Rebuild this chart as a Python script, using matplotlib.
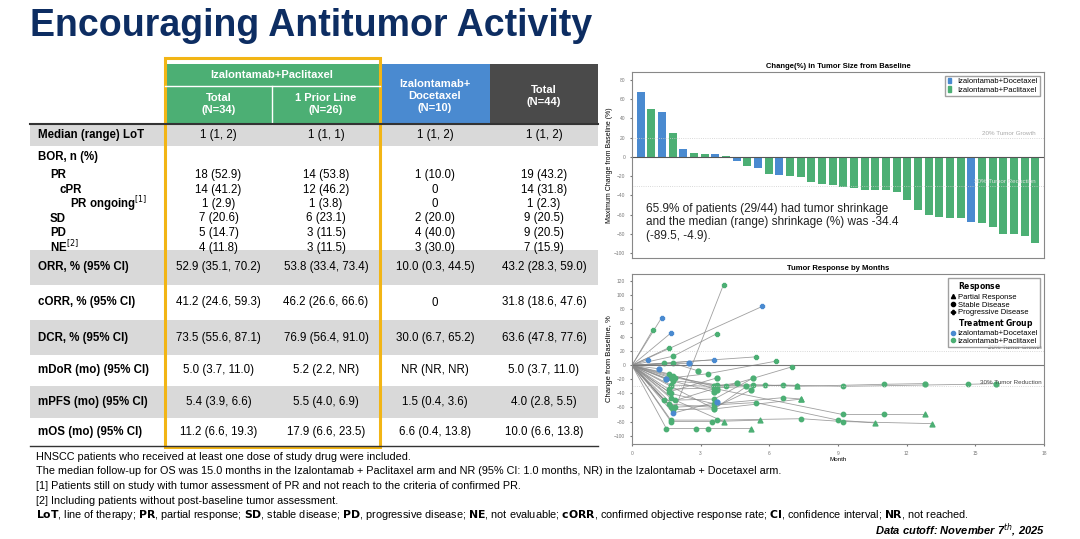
import matplotlib
matplotlib.use("Agg")
import matplotlib.pyplot as plt
import matplotlib.patches as mpatches
from matplotlib.lines import Line2D

W, H = 1080, 539
plt.rcParams["font.family"] = ["Liberation Sans", "DejaVu Sans"]

# ── table data ───────────────────────────────────────────────────────────────
ROW_LABELS = ["Median (range) LoT", "BOR, n (%)", "ORR, % (95% CI)", "cORR, % (95% CI)",
              "DCR, % (95% CI)", "mDoR (mo) (95% CI)", "mPFS (mo) (95% CI)", "mOS (mo) (95% CI)"]
LOT = ["1 (1, 2)", "1 (1, 1)", "1 (1, 2)", "1 (1, 2)"]
BOR_LABELS = ["PR", "cPR", "PR ongoing$^{[1]}$", "SD", "PD", "NE$^{[2]}$"]
BOR_INDENT = [0, 1, 2, 0, 0, 0]
BOR = [
    ["18 (52.9)", "14 (53.8)", "1 (10.0)", "19 (43.2)"],
    ["14 (41.2)", "12 (46.2)", "0", "14 (31.8)"],
    ["1 (2.9)", "1 (3.8)", "0", "1 (2.3)"],
    ["7 (20.6)", "6 (23.1)", "2 (20.0)", "9 (20.5)"],
    ["5 (14.7)", "3 (11.5)", "4 (40.0)", "9 (20.5)"],
    ["4 (11.8)", "3 (11.5)", "3 (30.0)", "7 (15.9)"],
]
STATS = [
    ["52.9 (35.1, 70.2)", "53.8 (33.4, 73.4)", "10.0 (0.3, 44.5)", "43.2 (28.3, 59.0)"],
    ["41.2 (24.6, 59.3)", "46.2 (26.6, 66.6)", "0", "31.8 (18.6, 47.6)"],
    ["73.5 (55.6, 87.1)", "76.9 (56.4, 91.0)", "30.0 (6.7, 65.2)", "63.6 (47.8, 77.6)"],
    ["5.0 (3.7, 11.0)", "5.2 (2.2, NR)", "NR (NR, NR)", "5.0 (3.7, 11.0)"],
    ["5.4 (3.9, 6.6)", "5.5 (4.0, 6.9)", "1.5 (0.4, 3.6)", "4.0 (2.8, 5.5)"],
    ["11.2 (6.6, 19.3)", "17.9 (6.6, 23.5)", "6.6 (0.4, 13.8)", "10.0 (6.6, 13.8)"],
]

# ── waterfall data ───────────────────────────────────────────────────────────
WF_VALUES = [67, 50, 46, 25, 8, 4, 3, 3, 1, -4, -10, -12, -18, -19, -20, -21, -26, -28, -29,
             -31, -32, -34, -34, -34, -36, -45, -55, -60, -62, -63, -64, -68, -69, -73, -80,
             -80, -82, -89.5]
WF_GROUP = ["D", "P", "D", "P", "D", "P", "P", "D", "P", "D", "P", "D", "P", "D", "P", "P", "P",
            "P", "P", "P", "P", "P", "P", "P", "P", "P", "P", "P", "P", "P", "P", "D", "P", "P",
            "P", "P", "P", "P"]

# ── spider data: (group, months, values, last marker) ────────────────────────
SPIDER = [
    ("D", [0, 1.3], [0, 68], "p"), ("P", [0, 0.9], [0, 50], "p"),
    ("D", [0, 1.7], [0, 46], "p"), ("P", [0, 1.6], [0, 25], "p"),
    ("D", [0, 0.7], [0, 8], "p"), ("D", [0, 1.2], [0, -5], "s"),
    ("D", [0, 2.5], [0, 3], "s"), ("D", [0, 1.5], [0, -19], "s"),
    ("D", [0, 5.7], [0, 84], "p"), ("D", [0, 3.6], [0, 8], "p"),
    ("P", [0, 1.8, 3.7], [0, 13, 45], "p"), ("P", [0, 1.9, 4.0], [0, -60, 115], "p"),
    ("P", [0, 1.4, 5.4], [0, 3, 12], "p"), ("P", [0, 1.8, 2.9], [0, 3, -8], "s"),
    ("P", [0, 1.8, 3.6, 4.6], [0, -15, -30, -25], "s"), ("P", [0, 1.7, 3.3, 6.3], [0, -18, -12, 6], "p"),
    ("P", [0, 1.8, 3.7, 5.8, 7.2, 11.0, 12.8], [0, -22, -28, -28, -30, -27, -26], "s"),
    ("P", [0, 1.9, 4.1, 7.0], [0, -18, -30, -2], "p"),
    ("P", [0, 1.7, 3.6, 5.3, 7.2], [0, -28, -30, -28, -29], "t"),
    ("P", [0, 1.6, 3.7, 6.6, 9.2, 14.7, 15.9], [0, -34, -32, -28, -30, -27, -26], "s"),
    ("P", [0, 1.7, 3.6, 6.6, 7.4], [0, -40, -55, -46, -48], "t"),
    ("P", [0, 1.9, 3.6, 9.2, 11.0, 12.8], [0, -50, -33, -70, -70, -70], "t"),
    ("P", [0, 1.4, 3.6, 5.3], [0, -50, -48, -18], "s"),
    ("P", [0, 1.8, 3.6, 7.4], [0, -63, -62, -48], "t"),
    ("P", [0, 1.7, 3.5, 5.6], [0, -80, -80, -78], "t"),
    ("P", [0, 1.7, 5.4, 9.0, 10.6], [0, -60, -53, -78, -82], "t"),
    ("P", [0, 1.5, 2.8, 3.3, 5.2], [0, -90, -90, -90, -90], "t"),
    ("P", [0, 1.7, 3.7, 7.4, 9.2, 13.1], [0, -78, -78, -76, -80, -83], "t"),
    ("P", [0, 1.6, 3.6, 5.2], [0, -55, -60, -35], "s"), ("P", [0, 1.5, 3.6], [0, -20, -38], "s"),
    ("P", [0, 1.7, 4.0], [0, -47, -80], "t"), ("P", [0, 1.6, 3.7], [0, -12, -35], "s"),
    ("P", [0, 1.7, 3.6, 5.0], [0, -30, -62, -30], "s"), ("P", [0, 1.6, 3.7], [0, -38, -18], "s"),
    ("D", [0, 1.8, 3.7], [0, -68, -52], "s"),
]

TITLE = "Encouraging Antitumor Activity"
FOOTNOTES = [
    "HNSCC patients who received at least one dose of study drug were included.",
    "The median follow-up for OS was 15.0 months in the Izalontamab + Paclitaxel arm and NR (95% CI: 1.0 months, NR) in the Izalontamab + Docetaxel arm.",
    "[1] Patients still on study with tumor assessment of PR and not reach to the criteria of confirmed PR.",
    "[2] Including patients without post-baseline tumor assessment.",
]

GREEN = "#4caf74"
BLUE = "#4a8ad0"
DARK = "#4a4a4a"
GRAY = "#d9d9d9"
NAVY = "#0d2d62"
ORANGE = "#f2b515"

fig = plt.figure(figsize=(W / 100, H / 100), dpi=100)
fig.patch.set_facecolor("white")


def fx(x):
    return x / W


def fy(y):
    return 1 - y / H


def box(x0, y0, x1, y1, color, **kw):
    fig.patches.append(mpatches.Rectangle((fx(x0), fy(y1)), fx(x1 - x0), (y1 - y0) / H,
                                          transform=fig.transFigure, facecolor=color,
                                          edgecolor="none", **kw))


def txt(x, y, s, **kw):
    kw.setdefault("fontsize", 8.3)
    kw.setdefault("va", "center")
    fig.text(fx(x), fy(y), s, **kw)


txt(30, 26, TITLE, fontsize=27, fontweight="bold", color=NAVY)

# ── table ────────────────────────────────────────────────────────────────────
COLS = [165, 272, 380, 490, 598]
CX = [(COLS[i] + COLS[i + 1]) / 2 for i in range(4)]
box(165, 64, 380, 124, GREEN)
box(380, 64, 490, 124, BLUE)
box(490, 64, 598, 124, DARK)
fig.add_artist(Line2D([fx(165), fx(380)], [fy(86), fy(86)], color="white", lw=1))
fig.add_artist(Line2D([fx(272), fx(272)], [fy(86), fy(124)], color="white", lw=1))
txt(272, 75, "Izalontamab+Paclitaxel", color="white", fontweight="bold", ha="center", fontsize=8)
txt(CX[0], 104, "Total\n(N=34)", color="white", fontweight="bold", ha="center", fontsize=8)
txt(CX[1], 104, "1 Prior Line\n(N=26)", color="white", fontweight="bold", ha="center", fontsize=8)
txt(CX[2], 96, "Izalontamab+\nDocetaxel\n(N=10)", color="white", fontweight="bold", ha="center", fontsize=8)
txt(CX[3], 96, "Total\n(N=44)", color="white", fontweight="bold", ha="center", fontsize=8)
fig.add_artist(Line2D([fx(30), fx(598)], [fy(124), fy(124)], color="#333333", lw=1.5))

box(30, 124, 598, 146, GRAY)
txt(38, 135, ROW_LABELS[0], fontweight="bold")
for c, v in zip(CX, LOT):
    txt(c, 135, v, ha="center")

txt(38, 157, ROW_LABELS[1], fontweight="bold")
for i, (lab, vals) in enumerate(zip(BOR_LABELS, BOR)):
    y = 175 + i * 14.5
    txt(50 + 10 * BOR_INDENT[i], y, lab, fontweight="bold")
    for c, v in zip(CX, vals):
        txt(c, y, v, ha="center")

stat_rows = [(250, 285), (285, 320), (320, 355), (355, 386), (386, 418), (418, 446)]
for i, ((y0, y1), vals) in enumerate(zip(stat_rows, STATS)):
    if i % 2 == 0:
        box(30, y0, 598, y1, GRAY)
    ym = (y0 + y1) / 2
    txt(38, ym, ROW_LABELS[2 + i], fontweight="bold")
    for c, v in zip(CX, vals):
        txt(c, ym, v, ha="center")
fig.add_artist(Line2D([fx(30), fx(598)], [fy(446), fy(446)], color="#333333", lw=1))
fig.patches.append(mpatches.Rectangle((fx(165), fy(447)), fx(215), 389 / H,
                                      transform=fig.transFigure, facecolor="none",
                                      edgecolor=ORANGE, lw=2.2))

# ── footnotes ────────────────────────────────────────────────────────────────
for i, s in enumerate(FOOTNOTES):
    txt(36, 457 + i * 14.5, s, fontsize=7.8)
txt(36, 515, r"$\bf{LoT}$, line of therapy; $\bf{PR}$, partial response; $\bf{SD}$, stable disease; "
    r"$\bf{PD}$, progressive disease; $\bf{NE}$, not evaluable; $\bf{cORR}$, confirmed objective "
    r"response rate; $\bf{CI}$, confidence interval; $\bf{NR}$, not reached.", fontsize=7.8)
txt(1045, 530, "Data cutoff: November 7$^{th}$, 2025", fontsize=8, fontweight="bold",
    fontstyle="italic", ha="right")

# ── waterfall ────────────────────────────────────────────────────────────────
ax1 = fig.add_axes([fx(632), fy(258), fx(412), 186 / H])
cols = [BLUE if g == "D" else GREEN for g in WF_GROUP]
ax1.bar(range(len(WF_VALUES)), WF_VALUES, color=cols, width=0.75)
ax1.axhline(0, color="#555555", lw=0.8)
ax1.axhline(20, color="#cccccc", lw=0.6, ls=":")
ax1.axhline(-30, color="#cccccc", lw=0.6, ls=":")
ax1.text(len(WF_VALUES) - 1, 22, "20% Tumor Growth", ha="right", va="bottom", fontsize=4.5, color="#aaaaaa")
ax1.text(len(WF_VALUES) - 1, -28, "30% Tumor Reduction", ha="right", va="bottom", fontsize=4.5, color="#dddddd")
ax1.set_xlim(-0.8, len(WF_VALUES) - 0.2)
ax1.set_ylim(-105, 88)
ax1.set_yticks(range(-100, 81, 20))
ax1.set_xticks([])
ax1.tick_params(axis="y", labelsize=3.5, length=1.5, colors="#777777")
ax1.set_ylabel("Maximum Change from Baseline (%)", fontsize=5, labelpad=1)
ax1.set_title("Change(%) in Tumor Size from Baseline", fontsize=5.5, fontweight="bold", pad=3)
for s in ax1.spines.values():
    s.set_color("#888888")
    s.set_linewidth(0.8)
ax1.legend(handles=[mpatches.Patch(color=BLUE, label="Izalontamab+Docetaxel"),
                    mpatches.Patch(color=GREEN, label="Izalontamab+Paclitaxel")],
           loc="upper right", fontsize=5.5, handlelength=0.5, borderpad=0.3, labelspacing=0.1,
           fancybox=False, edgecolor="#888888")
ax1.text(0.5, -68, "65.9% of patients (29/44) had tumor shrinkage\nand the median (range) shrinkage (%) was -34.4\n(-89.5, -4.9).",
         fontsize=8.5, va="center", ha="left", color="#222222")

# ── spider ───────────────────────────────────────────────────────────────────
ax2 = fig.add_axes([fx(632), fy(444), fx(412), 170 / H])
mk = {"p": "P", "s": "o", "t": "^"}
for g, xs, ys, m in SPIDER:
    c = BLUE if g == "D" else GREEN
    ax2.plot(xs, ys, color="#888888", lw=0.6, alpha=0.8, zorder=1)
    ax2.scatter(xs[1:-1], ys[1:-1], color=c, s=10, marker="o", zorder=2)
    ax2.scatter(xs[-1:], ys[-1:], color=c, s=12, marker=mk[m], zorder=3)
ax2.axhline(0, color="#777777", lw=0.8)
ax2.axhline(20, color="#cccccc", lw=0.6, ls=":")
ax2.axhline(-30, color="#cccccc", lw=0.6, ls=":")
ax2.text(17.9, 22, "20% Tumor Growth", ha="right", va="bottom", fontsize=4.5, color="#444444")
ax2.text(17.9, -28, "30% Tumor Reduction", ha="right", va="bottom", fontsize=4.5, color="#444444")
ax2.set_xlim(0, 18)
ax2.set_ylim(-112, 130)
ax2.set_yticks(range(-100, 121, 20))
ax2.set_xticks(range(0, 19, 3))
ax2.tick_params(labelsize=3.5, length=1.5, colors="#777777")
ax2.set_xlabel("Month", fontsize=4.5, labelpad=1)
ax2.set_ylabel("Change from Baseline, %", fontsize=5.5, labelpad=1)
ax2.set_title("Tumor Response by Months", fontsize=5.5, fontweight="bold", pad=3)
for s in ax2.spines.values():
    s.set_color("#888888")
    s.set_linewidth(0.8)
handles = [
    Line2D([], [], ls="", label="$\\bf{Response}$"),
    Line2D([], [], ls="", marker="^", color="black", ms=3, label="Partial Response"),
    Line2D([], [], ls="", marker="o", color="black", ms=3, label="Stable Disease"),
    Line2D([], [], ls="", marker="P", color="black", ms=3, label="Progressive Disease"),
    Line2D([], [], ls="", label="$\\bf{Treatment\\ Group}$"),
    Line2D([], [], ls="", marker="o", color=BLUE, ms=3, label="Izalontamab+Docetaxel"),
    Line2D([], [], ls="", marker="o", color=GREEN, ms=3, label="Izalontamab+Paclitaxel"),
]
ax2.legend(handles=handles, loc="upper right", fontsize=5.5, handlelength=0.6, handletextpad=0.3,
           borderpad=0.3, labelspacing=0.05, fancybox=False, edgecolor="#888888")

fig.savefig("out.png", dpi=100, facecolor="white")
